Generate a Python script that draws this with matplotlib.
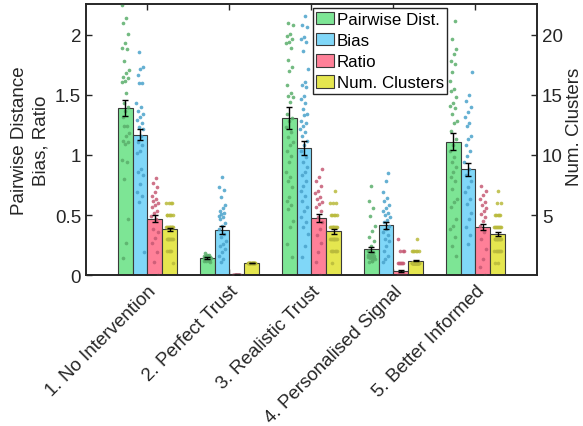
import numpy as np
import matplotlib
matplotlib.use("Agg")
import matplotlib.pyplot as plt

plt.rcParams['font.family'] = ['Liberation Sans', 'DejaVu Sans']

conditions = ["1. No Intervention", "2. Perfect Trust", "3. Realistic Trust",
              "4. Personalised Signal", "5. Better Informed"]
series = ["Pairwise Dist.", "Bias", "Ratio", "Num. Clusters"]

# bar heights (means) and standard errors
dist_mean = [1.39, 0.14, 1.31, 0.215, 1.11]
bias_mean = [1.17, 0.375, 1.06, 0.415, 0.88]
ratio_mean = [0.47, 0.005, 0.475, 0.035, 0.40]
clus_mean = [3.8, 1.0, 3.65, 1.2, 3.4]          # right axis units

dist_err = [0.065, 0.006, 0.09, 0.02, 0.07]
bias_err = [0.045, 0.03, 0.06, 0.03, 0.055]
ratio_err = [0.03, 0.003, 0.03, 0.006, 0.025]
clus_err = [0.15, 0.02, 0.2, 0.05, 0.18]

# individual runs
dist_pts = [
    [2.25, 2.14, 2.10, 2.01, 1.93, 1.89, 1.88, 1.78, 1.71, 1.68, 1.65, 1.64, 1.62, 1.61,
     1.52, 1.43, 1.40, 1.37, 1.32, 1.24, 1.24, 1.18, 1.16, 1.12, 1.11, 1.09, 0.96, 0.94,
     0.80, 0.47, 0.27, 0.14],
    [0.18, 0.17, 0.17, 0.16, 0.16, 0.15, 0.15, 0.15, 0.14, 0.14, 0.14, 0.14, 0.13, 0.13,
     0.13, 0.13, 0.12, 0.12, 0.12, 0.11, 0.14, 0.15, 0.13, 0.16],
    [2.10, 2.08, 2.01, 1.99, 1.97, 1.94, 1.93, 1.89, 1.79, 1.73, 1.70, 1.58, 1.52, 1.49,
     1.48, 1.44, 1.34, 1.31, 1.28, 1.23, 1.19, 1.15, 1.11, 1.08, 1.03, 0.99, 0.94, 0.86,
     0.82, 0.78, 0.73, 0.65, 0.62, 0.58, 0.55, 0.45, 0.40, 0.26, 0.15],
    [0.74, 0.62, 0.56, 0.49, 0.41, 0.37, 0.32, 0.28, 0.24, 0.20, 0.18, 0.16, 0.14, 0.12,
     0.20, 0.19, 0.18, 0.17, 0.17, 0.16, 0.16, 0.15, 0.15, 0.14, 0.14, 0.13, 0.12, 0.11],
    [2.12, 1.97, 1.88, 1.84, 1.78, 1.76, 1.69, 1.62, 1.55, 1.53, 1.48, 1.43, 1.41, 1.39,
     1.34, 1.28, 1.27, 1.20, 1.13, 1.08, 1.03, 0.98, 0.94, 0.90, 0.86, 0.82, 0.78, 0.72,
     0.63, 0.61, 0.57, 0.47, 0.41, 0.38, 0.32, 0.24, 0.16],
]
bias_pts = [
    [1.86, 1.73, 1.72, 1.67, 1.60, 1.60, 1.43, 1.40, 1.37, 1.34, 1.32, 1.29, 1.27, 1.23,
     1.22, 1.16, 1.11, 1.08, 1.03, 1.02, 0.88, 0.86, 0.83, 0.76, 0.69, 0.66, 0.61, 0.19],
    [0.82, 0.73, 0.71, 0.65, 0.58, 0.56, 0.53, 0.52, 0.51, 0.49, 0.48, 0.47, 0.43, 0.41,
     0.38, 0.34, 0.32, 0.28, 0.26, 0.24, 0.22, 0.19, 0.16, 0.13, 0.11],
    [2.16, 2.08, 2.07, 1.98, 1.97, 1.94, 1.87, 1.72, 1.61, 1.58, 1.57, 1.49, 1.47, 1.43,
     1.38, 1.34, 1.33, 1.28, 1.27, 1.24, 1.22, 1.19, 1.16, 1.12, 1.08, 1.03, 0.98, 0.94,
     0.90, 0.86, 0.83, 0.78, 0.74, 0.70, 0.66, 0.62, 0.57, 0.53, 0.48, 0.44, 0.40, 0.34,
     0.24, 0.15],
    [0.85, 0.78, 0.69, 0.64, 0.62, 0.58, 0.56, 0.53, 0.52, 0.50, 0.48, 0.46, 0.44, 0.41,
     0.38, 0.36, 0.33, 0.30, 0.28, 0.24, 0.20, 0.16, 0.13, 0.11],
    [1.69, 1.50, 1.45, 1.40, 1.36, 1.32, 1.27, 1.24, 1.16, 1.13, 1.08, 1.03, 0.99, 0.94,
     0.88, 0.83, 0.78, 0.73, 0.69, 0.63, 0.59, 0.52, 0.47, 0.40, 0.33, 0.26],
]
ratio_pts = [
    [0.81, 0.77, 0.73, 0.69, 0.66, 0.63, 0.62, 0.60, 0.58, 0.57, 0.53, 0.52, 0.49, 0.47,
     0.38, 0.36, 0.31, 0.27, 0.19, 0.11, 0.0],
    [0.0, 0.0, 0.0, 0.0, 0.0, 0.0, 0.0, 0.0, 0.0, 0.0, 0.0, 0.0, 0.0, 0.0, 0.0, 0.0],
    [0.88, 0.82, 0.78, 0.74, 0.70, 0.68, 0.65, 0.63, 0.61, 0.59, 0.57, 0.53, 0.48, 0.44,
     0.38, 0.33, 0.27, 0.19, 0.11, 0.0],
    [0.3, 0.2, 0.2, 0.2, 0.1, 0.1, 0.1, 0.1, 0.1, 0.1, 0.0, 0.0, 0.0, 0.0, 0.0, 0.0,
     0.0, 0.0, 0.0, 0.0, 0.0, 0.0, 0.0, 0.0],
    [0.74, 0.70, 0.67, 0.63, 0.61, 0.58, 0.56, 0.53, 0.51, 0.48, 0.45, 0.41, 0.36, 0.30,
     0.22, 0.13, 0.07, 0.0],
]
# number of runs ending with 0, 1, 2, ... 7 clusters
clus_counts = [
    [0, 1, 4, 8, 10, 6, 4, 0],
    [0, 20, 0, 0, 0, 0, 0, 0],
    [0, 1, 6, 9, 9, 5, 3, 1],
    [0, 35, 6, 1, 0, 0, 0, 0],
    [0, 2, 7, 10, 8, 5, 2, 1],
]

bar_cols = ["#7de595", "#80d7f8", "#ff8098", "#e5e64f"]
dot_cols = ["#5aae6b", "#4aa2cb", "#c65a74", "#b9ba3c"]
offsets = [-0.27, -0.09, 0.09, 0.27]
width = 0.18
clus_scale = 10.0   # clusters plotted on the left axis as clusters / 10
ink = "#262626"

fig = plt.figure(figsize=(5.83, 4.27), dpi=100)
ax = fig.add_axes([0.1475, 0.3536, 0.7735, 0.6347])
ax2 = ax.twinx()

x = np.arange(1, 6)
means = [dist_mean, bias_mean, ratio_mean, [m / clus_scale for m in clus_mean]]
errs = [dist_err, bias_err, ratio_err, [e / clus_scale for e in clus_err]]
clus_pts = [np.repeat(np.arange(len(c)), c) / clus_scale for c in clus_counts]
pts = [dist_pts, bias_pts, ratio_pts, clus_pts]

handles = []
for k in range(4):
    b = ax.bar(x + offsets[k], means[k], width, color=bar_cols[k],
               edgecolor="#3a3a3a", linewidth=0.8, zorder=2, label=series[k])
    handles.append(b)
    for g in range(5):
        vals = np.asarray(pts[k][g], dtype=float)
        i = np.arange(len(vals))
        jit = ((i * 0.618034 + 0.3 * k + 0.17 * g) % 1.0 - 0.5) * 0.09
        ax.scatter(x[g] + offsets[k] + jit, vals, s=7, color=dot_cols[k],
                   alpha=0.85, linewidths=0, zorder=3)
    ax.errorbar(x + offsets[k], means[k], yerr=errs[k], fmt="none", ecolor="black",
                elinewidth=1.0, capsize=2.2, capthick=1.0, zorder=4)

ax.set_xlim(0.25, 5.75)
ax.set_ylim(0, 2.258)
ax.set_yticks([0, 0.5, 1, 1.5, 2])
ax.set_yticklabels(["0", "0.5", "1", "1.5", "2"])
ax.set_xticks(x)
ax.set_xticklabels(conditions, rotation=45, ha="right", rotation_mode="anchor")
ax.tick_params(axis="both", direction="in", length=4, width=1.0, labelsize=13.5,
               colors=ink, top=True, right=False)
ax.tick_params(axis="x", pad=5)
ax.set_ylabel("Pairwise Distance\nBias, Ratio", fontsize=13.5, color=ink,
              linespacing=1.3)

ax2.set_ylim(0, 22.58)
ax2.set_yticks([5, 10, 15, 20])
ax2.tick_params(axis="y", direction="in", length=4, width=1.0, labelsize=13.5,
                colors=ink)
ax2.set_ylabel("Num. Clusters", fontsize=13.5, color=ink, labelpad=2)
ax2.yaxis.label.set_y(0.55)

for a in (ax, ax2):
    for sp in a.spines.values():
        sp.set_linewidth(1.2)
        sp.set_color(ink)

leg = ax2.legend(handles, series, loc="upper left", bbox_to_anchor=(0.503, 0.984),
                 borderaxespad=0, fontsize=12.2, frameon=True, fancybox=False,
                 edgecolor=ink, framealpha=1, borderpad=0.2,
                 handlelength=1.05, handleheight=0.75, handletextpad=0.15,
                 labelspacing=0.36)
leg.get_frame().set_linewidth(1.0)

fig.savefig("out.png", dpi=100)
